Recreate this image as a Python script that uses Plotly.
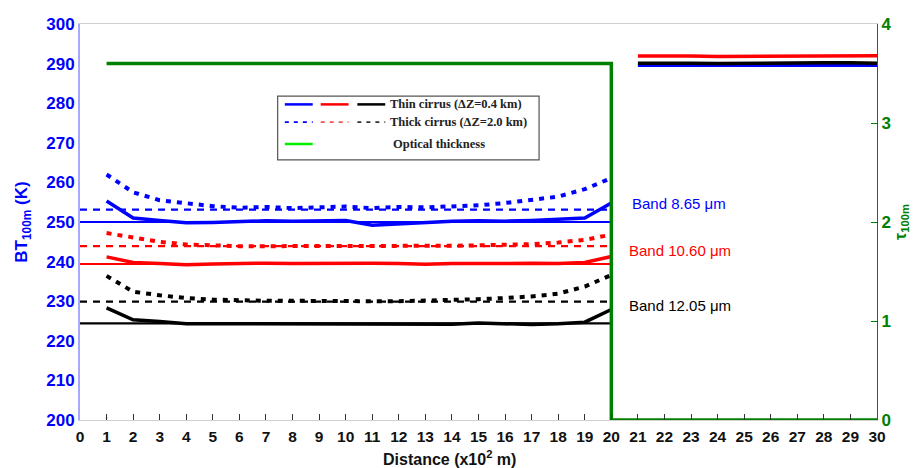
import plotly.graph_objects as go

# Distance along the transect (x10^2 m)
dist_cirrus = list(range(1, 21))
dist_ref = [0, 20]
dist_clear = list(range(21, 31))

# Brightness temperature (K), thin cirrus (dZ = 0.4 km)
bt_thin_865 = [255.3, 251.0, 250.4, 249.8, 249.9, 250.1, 250.3, 250.2, 250.3, 250.4,
               249.2, 249.6, 250.0, 250.2, 250.3, 250.2, 250.4, 250.7, 251.0, 254.8]
bt_thin_1060 = [241.2, 239.8, 239.5, 239.2, 239.4, 239.6, 239.6, 239.5, 239.6, 239.5,
                239.6, 239.5, 239.3, 239.5, 239.4, 239.5, 239.6, 239.5, 239.8, 241.3]
bt_thin_1205 = [228.3, 225.3, 224.9, 224.3, 224.3, 224.3, 224.3, 224.3, 224.3, 224.3,
                224.2, 224.3, 224.3, 224.2, 224.5, 224.2, 224.1, 224.3, 224.7, 227.9]

# Brightness temperature (K), thick cirrus (dZ = 2.0 km)
bt_thick_865 = [262.0, 257.5, 255.5, 254.8, 254.0, 253.6, 253.8, 253.5, 253.7, 253.9,
                253.5, 253.8, 253.7, 253.9, 254.2, 254.8, 255.5, 256.4, 258.3, 261.1]
bt_thick_1060 = [247.2, 246.2, 245.0, 244.3, 244.0, 243.9, 243.9, 243.9, 243.8, 243.9,
                 243.9, 243.8, 243.9, 244.0, 244.1, 244.2, 244.4, 244.8, 245.5, 246.8]
bt_thick_1205 = [236.4, 232.4, 231.5, 230.8, 230.4, 230.2, 230.1, 230.1, 230.0, 230.0,
                 230.0, 230.0, 230.1, 230.3, 230.5, 230.8, 231.2, 231.9, 233.7, 236.6]

# Homogeneous-cloud reference levels (K)
ref_thin = {"865": 250.0, "1060": 239.4, "1205": 224.4}
ref_thick = {"865": 253.1, "1060": 243.9, "1205": 229.9}

# Clear-sky brightness temperature (K)
bt_clear_865 = [289.6, 289.6, 289.5, 289.6, 289.6, 289.6, 289.6, 289.6, 289.7, 289.6]
bt_clear_1060 = [291.9, 292.0, 291.9, 291.8, 291.8, 291.9, 291.9, 291.9, 291.9, 292.0]
bt_clear_1205 = [290.1, 290.2, 290.1, 290.0, 290.1, 290.1, 290.1, 290.2, 290.2, 290.1]

# Optical thickness profile
tau_x = [1, 20, 20, 30]
tau = [3.6, 3.6, 0.0, 0.0]

band_colors = {"865": "#0000ff", "1060": "#ff0000", "1205": "#000000"}
thin = {"865": bt_thin_865, "1060": bt_thin_1060, "1205": bt_thin_1205}
thick = {"865": bt_thick_865, "1060": bt_thick_1060, "1205": bt_thick_1205}
clear = {"865": bt_clear_865, "1060": bt_clear_1060, "1205": bt_clear_1205}

fig = go.Figure()

for b, c in band_colors.items():
    fig.add_trace(go.Scatter(x=dist_ref, y=[ref_thin[b]] * 2, mode="lines",
                             line=dict(color=c, width=2.2), showlegend=False))
    fig.add_trace(go.Scatter(x=dist_ref, y=[ref_thick[b]] * 2, mode="lines",
                             line=dict(color=c, width=2.2, dash="7px,6px"), showlegend=False))
    fig.add_trace(go.Scatter(x=dist_cirrus, y=thin[b], mode="lines",
                             line=dict(color=c, width=3.5), showlegend=False))
    fig.add_trace(go.Scatter(x=dist_cirrus, y=thick[b], mode="lines",
                             line=dict(color=c, width=4, dash="5px,6px"), showlegend=False))
    fig.add_trace(go.Scatter(x=dist_clear, y=clear[b], mode="lines",
                             line=dict(color=c, width=3.5), showlegend=False))

fig.add_trace(go.Scatter(x=tau_x, y=tau, mode="lines", yaxis="y2",
                         line=dict(color="#008000", width=3.5), showlegend=False))
fig.add_trace(go.Scatter(x=[1], y=[0.02], mode="markers", yaxis="y2",
                         marker=dict(color="#00ff00", size=2), showlegend=False))

# Legend box drawn in paper coordinates
shapes = [dict(type="rect", xref="paper", yref="paper", x0=0.248, x1=0.576, y0=0.657, y1=0.818,
               line=dict(color="#555555", width=1.2), fillcolor="white", layer="below")]
legend_rows = [(0.797, "solid", ["#0000ff", "#ff0000", "#000000"]),
               (0.752, "dash", ["#0000ff", "#ff5050", "#333333"]),
               (0.697, "solid", ["#00ee00"])]
seg_x = [(0.257, 0.292), (0.302, 0.337), (0.348, 0.383)]
for yy, dash, cols in legend_rows:
    for (a, bb), col in zip(seg_x, cols):
        shapes.append(dict(type="line", xref="paper", yref="paper", x0=a, x1=bb, y0=yy, y1=yy,
                           line=dict(color=col, width=2.5 if dash == "solid" else 1.8,
                                     dash="solid" if dash == "solid" else "4px,5px")))

legend_font = dict(family="Liberation Serif", size=12.5, color="#222222")
annotations = [
    dict(xref="paper", yref="paper", x=0.387, y=0.797, xanchor="left", yanchor="middle",
         text="<b>Thin cirrus (ΔZ=0.4 km)</b>", showarrow=False, font=legend_font),
    dict(xref="paper", yref="paper", x=0.387, y=0.752, xanchor="left", yanchor="middle",
         text="<b>Thick cirrus (ΔZ=2.0 km)</b>", showarrow=False, font=legend_font),
    dict(xref="paper", yref="paper", x=0.39, y=0.697, xanchor="left", yanchor="middle",
         text="<b>Optical thickness</b>", showarrow=False, font=legend_font),
    dict(x=20.7, y=254.6, xanchor="left", yanchor="middle", text="Band 8.65 μm", showarrow=False,
         font=dict(family="Liberation Sans", size=15, color="#0000ff")),
    dict(x=20.6, y=242.9, xanchor="left", yanchor="middle", text="Band 10.60 μm", showarrow=False,
         font=dict(family="Liberation Sans", size=15, color="#ff0000")),
    dict(x=20.6, y=229.0, xanchor="left", yanchor="middle", text="Band 12.05 μm", showarrow=False,
         font=dict(family="Liberation Sans", size=15, color="#000000")),
    dict(xref="paper", yref="paper", x=0.463, y=-0.095, xanchor="center", yanchor="middle",
         text="<b>Distance (x10<sup>2</sup> m)</b>", showarrow=False,
         font=dict(family="Liberation Sans", size=16, color="#111111")),
]

fig.update_layout(
    width=919, height=468,
    margin=dict(l=80, r=42, t=24, b=48),
    paper_bgcolor="white", plot_bgcolor="white",
    showlegend=False,
    shapes=shapes, annotations=annotations,
    xaxis=dict(range=[0, 30], tickmode="linear", tick0=0, dtick=1,
               ticks="inside", ticklen=6, tickcolor="#333333", tickwidth=1,
               showline=True, linecolor="#d0d0d0", linewidth=1, mirror=True,
               showgrid=False, zeroline=False, ticklabelstandoff=2,
               tickfont=dict(family="Liberation Sans", size=15.5, color="#111111", weight="bold")),
    yaxis=dict(range=[200, 300], tickmode="linear", tick0=200, dtick=10,
               ticks="", showline=True, linecolor="#a8a8ff", linewidth=2,
               showgrid=False, zeroline=False,
               tickfont=dict(family="Liberation Sans", size=17, color="#0000ff", weight="bold"),
               title=dict(text="<b>BT<sub>100m</sub> (K)</b>", standoff=14,
                          font=dict(family="Liberation Sans", size=17, color="#0000ff"))),
    yaxis2=dict(range=[0, 4], overlaying="y", side="right", tickmode="linear", tick0=0, dtick=1,
                ticks="inside", ticklen=6, tickcolor="#008000",
                showline=True, linecolor="#008000", linewidth=1,
                showgrid=False, zeroline=False,
                tickfont=dict(family="Liberation Sans", size=17, color="#008000", weight="bold"),
                title=dict(text="<b>τ<sub>100m</sub></b>", standoff=4,
                           font=dict(family="Liberation Sans", size=16, color="#008000"))),
)

fig.write_html("out.html")
